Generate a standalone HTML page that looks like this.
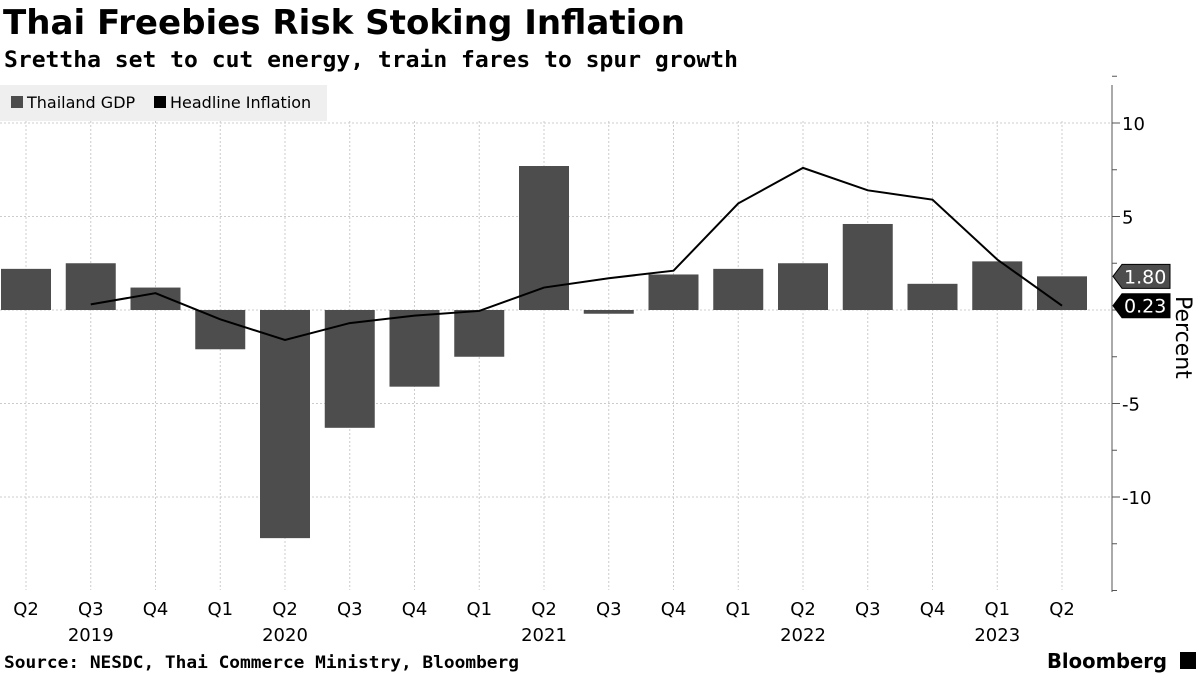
<!DOCTYPE html>
<html><head><meta charset="utf-8"><style>
body{margin:0;background:#fff;font-family:"Liberation Sans",sans-serif;}
svg text{font-family:"DejaVu Sans","Liberation Sans",sans-serif;}
</style></head><body>
<svg width="1200" height="675" xmlns="http://www.w3.org/2000/svg">
<text x="3" y="34" font-size="34" font-weight="bold" fill="#000" textLength="682" lengthAdjust="spacingAndGlyphs" style="font-family:'DejaVu Sans',sans-serif">Thai Freebies Risk Stoking Inflation</text>
<text x="4" y="67" font-size="22" font-weight="bold" fill="#000" textLength="734" lengthAdjust="spacingAndGlyphs" style="font-family:'DejaVu Sans Mono',monospace">Srettha set to cut energy, train fares to spur growth</text>
<g id="grid"></g>
<g id="bars"></g>
<g id="line"></g>
<g id="axis"></g>
<rect x="0" y="85" width="327" height="36" fill="#efefef"/>
<rect x="11" y="96" width="12" height="12" fill="#4d4d4d"/>
<text x="27" y="108" font-size="16" fill="#000">Thailand GDP</text>
<rect x="154" y="96" width="12" height="12" fill="#000"/>
<text x="170" y="108" font-size="16" fill="#000">Headline Inflation</text>
<text transform="translate(1176,296) rotate(90)" font-size="22" fill="#000">Percent</text>
<text x="4" y="668" font-size="17" font-weight="bold" fill="#000" textLength="515" lengthAdjust="spacingAndGlyphs" style="font-family:'DejaVu Sans Mono',monospace">Source: NESDC, Thai Commerce Ministry, Bloomberg</text>
<text x="1047" y="668" font-size="20" font-weight="bold" fill="#000" textLength="120" lengthAdjust="spacingAndGlyphs">Bloomberg</text>
<rect x="1180" y="652" width="16" height="17" fill="#000"/>
</svg>
<script>
const categories=["Q2","Q3","Q4","Q1","Q2","Q3","Q4","Q1","Q2","Q3","Q4","Q1","Q2","Q3","Q4","Q1","Q2"];
const years=[{i:1,label:"2019"},{i:4,label:"2020"},{i:8,label:"2021"},{i:12,label:"2022"},{i:15,label:"2023"}];
const gdp=[2.2,2.5,1.2,-2.1,-12.2,-6.3,-4.1,-2.5,7.7,-0.2,1.9,2.2,2.5,4.6,1.4,2.6,1.8];
const inflation=[null,0.3,0.9,-0.5,-1.6,-0.7,-0.3,-0.05,1.2,1.7,2.1,5.7,7.6,6.4,5.9,2.7,0.23];
const yTicks=[10,5,0,-5,-10];
const minorTicks=[12.5,7.5,2.5,-2.5,-7.5,-12.5,-15];
const NS="http://www.w3.org/2000/svg";
const X=i=>26+i*64.75;
const Y=v=>310-v*18.7;
function mk(p,tag,a){const e=document.createElementNS(NS,tag);for(const k in a)e.setAttribute(k,a[k]);p.appendChild(e);return e;}
const grid=document.getElementById('grid'),bars=document.getElementById('bars'),line=document.getElementById('line'),axis=document.getElementById('axis');
categories.forEach((c,i)=>{const g=mk(grid,'line',{x1:X(i),x2:X(i),y1:121,y2:590,stroke:'#ccc','stroke-dasharray':'2,2'});


const t=mk(axis,'text',{x:X(i),y:615,'font-size':18,'text-anchor':'middle'});t.textContent=c;

});
years.forEach(y=>{const t=mk(axis,'text',{x:X(y.i),y:641,'font-size':18,'text-anchor':'middle'});t.textContent=y.label;

});
yTicks.forEach(v=>{const g=mk(grid,'line',{x1:0,x2:1112,y1:Y(v),y2:Y(v),stroke:'#ccc','stroke-dasharray':'2,2'});


mk(axis,'line',{x1:1112,x2:1120,y1:Y(v),y2:Y(v),stroke:'#555'});
const t=mk(axis,'text',{x:1122,y:Y(v)+7,'font-size':18});t.textContent=v;

});
minorTicks.forEach(v=>mk(axis,'line',{x1:1112,x2:1117,y1:Y(v),y2:Y(v),stroke:'#555'}));
const ax=mk(axis,'line',{x1:1112,x2:1112,y1:85,y2:592,stroke:'#555'});


gdp.forEach((v,i)=>{const r=mk(bars,'rect',{x:X(i)-25,width:50,y:Math.min(Y(v),Y(0)),height:Math.abs(Y(v)-Y(0)),fill:'#4d4d4d'});

});
const pts=inflation.map((v,i)=>v===null?null:X(i)+','+Y(v)).filter(p=>p);
const pl=mk(line,'polyline',{points:pts.join(' '),fill:'none',stroke:'#000','stroke-width':2});


function tag(v,fill){const y=Y(v);const g=mk(axis,'g',{});
mk(g,'path',{d:`M1113 ${y} L1122 ${y-12} L1170 ${y-12} L1170 ${y+12} L1122 ${y+12} Z`,fill:fill,stroke:'#000','stroke-width':1});
const t=mk(g,'text',{x:1124,y:y+7,'font-size':19,fill:'#fff'});t.textContent=v.toFixed(2);

}
tag(gdp[gdp.length-1],'#4d4d4d');
tag(inflation[inflation.length-1],'#000');
</script>
</body></html>
